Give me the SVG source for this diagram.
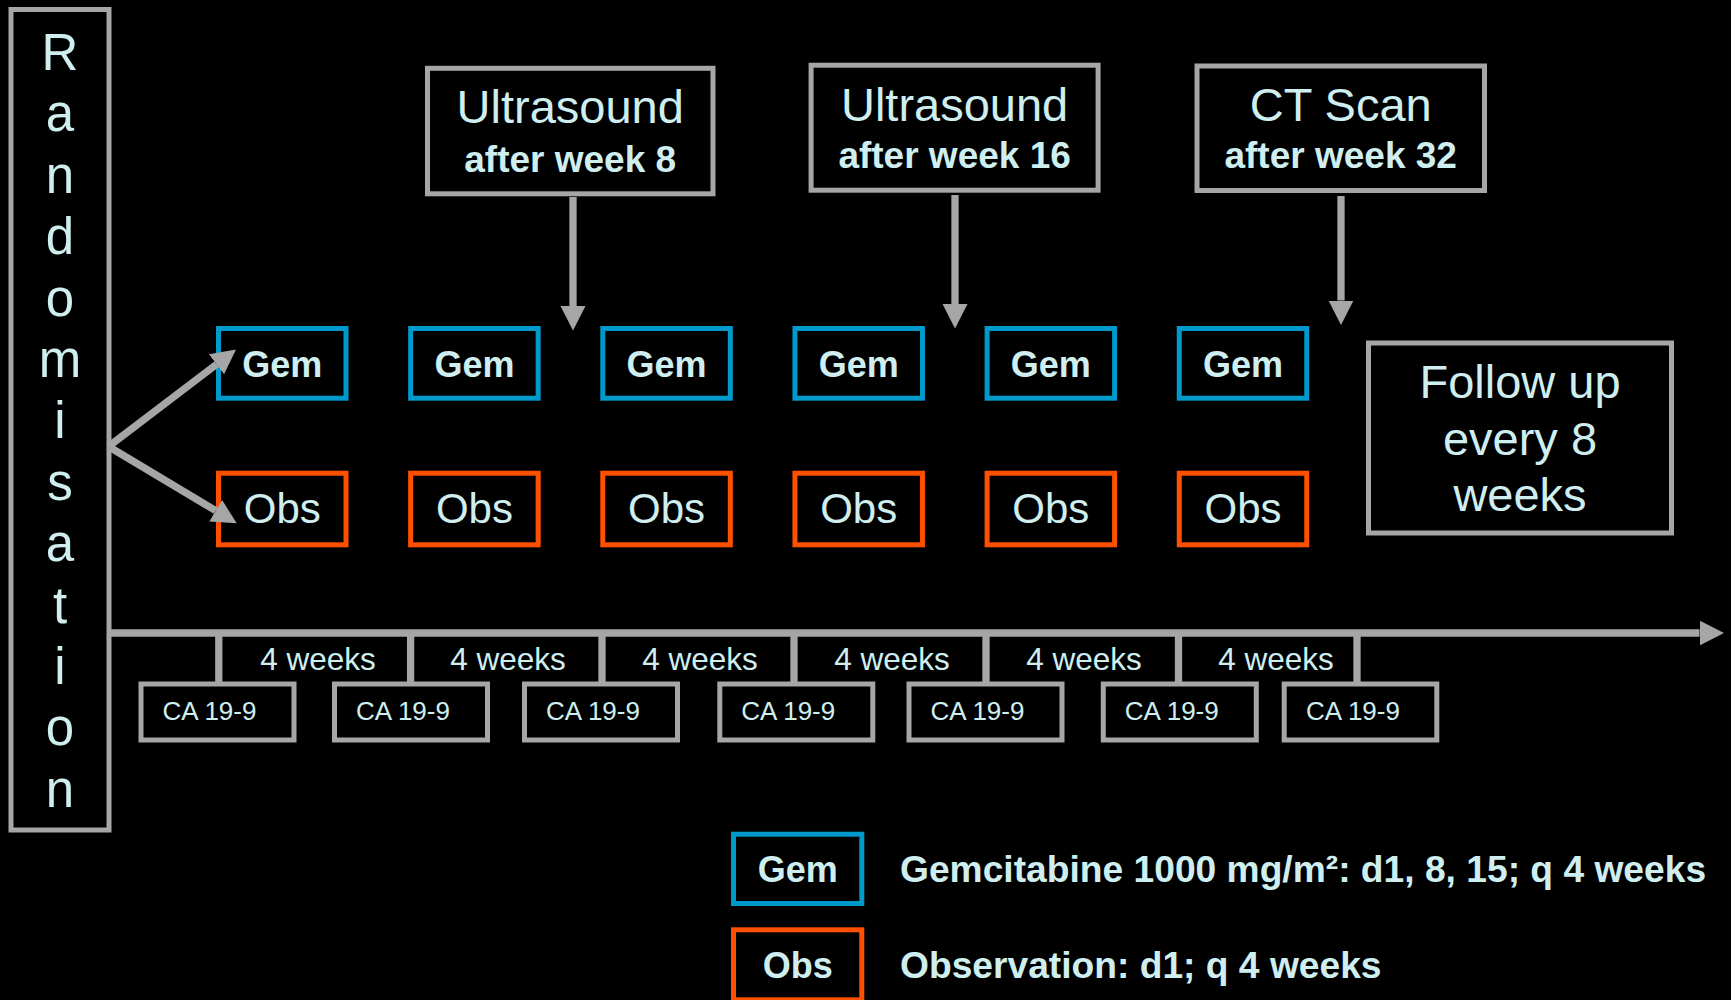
<svg xmlns="http://www.w3.org/2000/svg" width="1731" height="1000" viewBox="0 0 1731 1000">
<defs>
<style>
.t{font-family:"Liberation Sans",Arial,Helvetica,sans-serif;fill:#cfeef0}
.c{text-anchor:middle}
.g{fill:none;stroke:#a6a6a6;stroke-width:5}
.gem{fill:none;stroke:#0099cc;stroke-width:5}
.obs{fill:none;stroke:#ff5000;stroke-width:5}
.ln{stroke:#a6a6a6;stroke-width:7.3;fill:none}
.big{font-size:47px}
.sub{font-size:37px;font-weight:bold}
.lg{font-size:37.2px;font-weight:bold}
.gt{font-size:36px;font-weight:bold}
.ot{font-size:42px}
.ca{font-size:26px}
.wk{font-size:31.5px}
</style>
<marker id="ah" markerUnits="userSpaceOnUse" markerWidth="26" markerHeight="26" refX="0" refY="12.5" orient="auto">
<path d="M0,0 L24.5,12.5 L0,25 z" fill="#a6a6a6"/>
</marker>
</defs>
<rect x="0" y="0" width="1731" height="1000" fill="#000"/>

<g id="randomisation">
<rect class="g" x="11" y="9.5" width="98" height="820.5"/>
<text class="t c" font-size="51" x="60">
<tspan x="60" y="70">R</tspan><tspan x="60" y="131.4">a</tspan><tspan x="60" y="192.8">n</tspan><tspan x="60" y="254.2">d</tspan><tspan x="60" y="315.6">o</tspan><tspan x="60" y="377">m</tspan><tspan x="60" y="438.4">i</tspan><tspan x="60" y="499.8">s</tspan><tspan x="60" y="561.2">a</tspan><tspan x="60" y="622.6">t</tspan><tspan x="60" y="684">i</tspan><tspan x="60" y="745.4">o</tspan><tspan x="60" y="806.8">n</tspan>
</text>
</g>

<g id="us8">
<rect class="g" x="427.5" y="68.3" width="285.5" height="125.5"/>
<text class="t c big" x="570.2" y="123.3">Ultrasound</text>
<text class="t c sub" x="570.2" y="171.7">after week 8</text>
</g>
<g id="us16">
<rect class="g" x="811.1" y="65.2" width="287" height="125"/>
<text class="t c big" x="954.6" y="120.7">Ultrasound</text>
<text class="t c sub" x="954.6" y="168.3">after week 16</text>
</g>
<g id="ct32">
<rect class="g" x="1197" y="66" width="287.5" height="124.5"/>
<text class="t c big" x="1340.7" y="121">CT Scan</text>
<text class="t c sub" x="1340.7" y="168">after week 32</text>
</g>

<g id="gem1"><rect class="gem" x="218.5" y="328.5" width="127.5" height="69.7"/><text class="t c gt" x="282.25" y="376.7">Gem</text></g>
<g id="gem2"><rect class="gem" x="410.65" y="328.5" width="127.5" height="69.7"/><text class="t c gt" x="474.4" y="376.7">Gem</text></g>
<g id="gem3"><rect class="gem" x="602.8" y="328.5" width="127.5" height="69.7"/><text class="t c gt" x="666.55" y="376.7">Gem</text></g>
<g id="gem4"><rect class="gem" x="794.95" y="328.5" width="127.5" height="69.7"/><text class="t c gt" x="858.7" y="376.7">Gem</text></g>
<g id="gem5"><rect class="gem" x="987.1" y="328.5" width="127.5" height="69.7"/><text class="t c gt" x="1050.85" y="376.7">Gem</text></g>
<g id="gem6"><rect class="gem" x="1179.25" y="328.5" width="127.5" height="69.7"/><text class="t c gt" x="1243" y="376.7">Gem</text></g>

<g id="obs1"><rect class="obs" x="218.5" y="473.2" width="127.5" height="71.6"/><text class="t c ot" x="282.25" y="523.3">Obs</text></g>
<g id="obs2"><rect class="obs" x="410.65" y="473.2" width="127.5" height="71.6"/><text class="t c ot" x="474.4" y="523.3">Obs</text></g>
<g id="obs3"><rect class="obs" x="602.8" y="473.2" width="127.5" height="71.6"/><text class="t c ot" x="666.55" y="523.3">Obs</text></g>
<g id="obs4"><rect class="obs" x="794.95" y="473.2" width="127.5" height="71.6"/><text class="t c ot" x="858.7" y="523.3">Obs</text></g>
<g id="obs5"><rect class="obs" x="987.1" y="473.2" width="127.5" height="71.6"/><text class="t c ot" x="1050.85" y="523.3">Obs</text></g>
<g id="obs6"><rect class="obs" x="1179.25" y="473.2" width="127.5" height="71.6"/><text class="t c ot" x="1243" y="523.3">Obs</text></g>

<g id="followup">
<rect class="g" x="1368.5" y="343" width="303" height="190"/>
<text class="t c big" x="1520" y="398">Follow up</text>
<text class="t c big" x="1520" y="455">every 8</text>
<text class="t c big" x="1520" y="510.5">weeks</text>
</g>

<g id="weeks">
<text class="t c wk" x="318" y="670">4 weeks</text>
<text class="t c wk" x="508" y="670">4 weeks</text>
<text class="t c wk" x="700" y="670">4 weeks</text>
<text class="t c wk" x="892" y="670">4 weeks</text>
<text class="t c wk" x="1084" y="670">4 weeks</text>
<text class="t c wk" x="1276" y="670">4 weeks</text>
</g>

<g id="ca1"><rect class="g" x="141" y="684" width="153" height="56"/><text class="t ca" x="162.5" y="720">CA 19-9</text></g>
<g id="ca2"><rect class="g" x="334.5" y="684" width="153" height="56"/><text class="t ca" x="356" y="720">CA 19-9</text></g>
<g id="ca3"><rect class="g" x="524.5" y="684" width="153" height="56"/><text class="t ca" x="546" y="720">CA 19-9</text></g>
<g id="ca4"><rect class="g" x="719.8" y="684" width="153" height="56"/><text class="t ca" x="741.3" y="720">CA 19-9</text></g>
<g id="ca5"><rect class="g" x="909" y="684" width="153" height="56"/><text class="t ca" x="930.5" y="720">CA 19-9</text></g>
<g id="ca6"><rect class="g" x="1103.3" y="684" width="153" height="56"/><text class="t ca" x="1124.8" y="720">CA 19-9</text></g>
<g id="ca7"><rect class="g" x="1284.2" y="684" width="152.6" height="56"/><text class="t ca" x="1306" y="720">CA 19-9</text></g>

<g id="legend-gem">
<rect class="gem" x="733.5" y="834.2" width="128.3" height="69.3"/>
<text class="t c gt" x="797.7" y="882.3">Gem</text>
<text class="t lg" x="900" y="882.3">Gemcitabine 1000 mg/m²: d1, 8, 15; q 4 weeks</text>
</g>
<g id="legend-obs">
<rect class="obs" x="733.5" y="929.8" width="128.3" height="70"/>
<text class="t c gt" x="797.7" y="978.3">Obs</text>
<text class="t lg" x="900" y="978.3">Observation: d1; q 4 weeks</text>
</g>

<g id="connectors">
<line class="ln" x1="109" y1="633" x2="1699.5" y2="633" marker-end="url(#ah)"/>
<line class="ln" x1="108.5" y1="446.5" x2="216.5" y2="364.3" marker-end="url(#ah)"/>
<line class="ln" x1="108.5" y1="446.5" x2="215.7" y2="510.7" marker-end="url(#ah)"/>
<line class="ln" x1="573" y1="197" x2="573" y2="306" marker-end="url(#ah)"/>
<line class="ln" x1="955" y1="195" x2="955" y2="304" marker-end="url(#ah)"/>
<line class="ln" x1="1341" y1="196" x2="1341" y2="300.5" marker-end="url(#ah)"/>
<line class="ln" x1="218.8" y1="633" x2="218.8" y2="683"/>
<line class="ln" x1="410.6" y1="633" x2="410.6" y2="683"/>
<line class="ln" x1="602" y1="633" x2="602" y2="683"/>
<line class="ln" x1="794" y1="633" x2="794" y2="683"/>
<line class="ln" x1="986" y1="633" x2="986" y2="683"/>
<line class="ln" x1="1178.5" y1="633" x2="1178.5" y2="683"/>
<line class="ln" x1="1357" y1="633" x2="1357" y2="683"/>
</g>
</svg>
